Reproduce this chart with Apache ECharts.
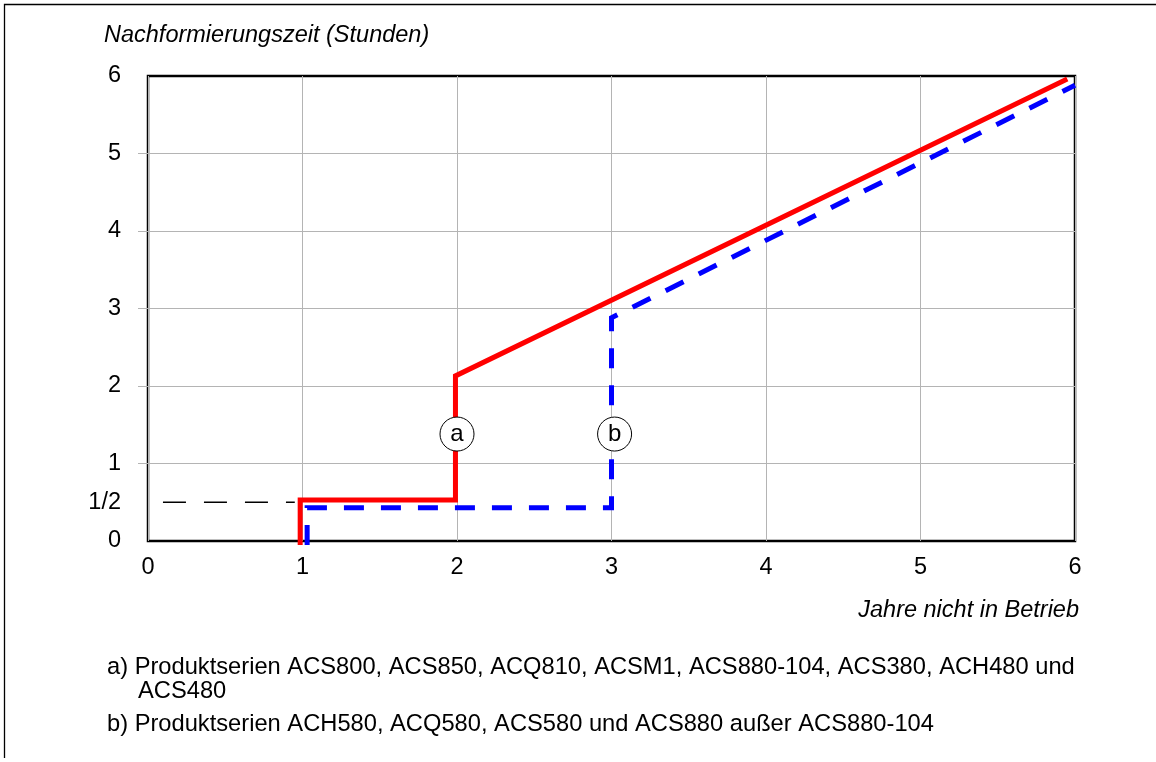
<!DOCTYPE html>
<html>
<head>
<meta charset="utf-8">
<script src="https://cdn.jsdelivr.net/npm/echarts@6/dist/echarts.min.js"></script>
<style>
html,body{margin:0;padding:0;background:#fff;}
#c{width:1156px;height:762px;}
</style>
</head>
<body>
<div id="c"></div>
<script>
// ---- data ----
const yAxisTitle = 'Nachformierungszeit (Stunden)';
const xAxisTitle = 'Jahre nicht in Betrieb';
const xTickValues = [0, 1, 2, 3, 4, 5, 6];
const yLabelValues = [0, 0.5, 1, 2, 3, 4, 5, 6];
const yLabelTexts = ['0', '1/2', '1', '2', '3', '4', '5', '6'];
const yGridValues = [1, 2, 3, 4, 5];
const seriesA = [[0.985, -0.05], [0.985, 0.53], [1.99, 0.53], [1.99, 2.13], [5.95, 5.96]];
const seriesB = [[1.03, -0.05], [1.03, 0.43], [3.0, 0.43], [3.0, 2.88], [6.0, 5.88]];
const halfLine = [[-0.065, 0.5], [0.95, 0.5]];
const markers = [[2.0, 1.38, 'a'], [3.02, 1.38, 'b']];
const noteLines = [
  'a) Produktserien ACS800, ACS850, ACQ810, ACSM1, ACS880-104, ACS380, ACH480 und',
  'ACS480',
  'b) Produktserien ACH580, ACQ580, ACS580 und ACS880 außer ACS880-104'
];

const FONT = "'Liberation Sans', Arial, sans-serif";
const chart = echarts.init(document.getElementById('c'), null, {renderer: 'canvas'});

const noteLeft = [107, 138, 107];
const noteTop = [655, 679, 712];

const titles = [
  {text: yAxisTitle, left: 104, top: 23.5, padding: 0,
   textStyle: {fontFamily: FONT, fontSize: 23.5, fontStyle: 'italic', fontWeight: 'normal', color: '#000'}},
  {text: xAxisTitle, right: 77, top: 598.5, padding: 0,
   textStyle: {fontFamily: FONT, fontSize: 23.5, fontStyle: 'italic', fontWeight: 'normal', color: '#000'}}
].concat(noteLines.map((t, i) => ({
  text: t, left: noteLeft[i], top: noteTop[i], padding: 0,
  textStyle: {fontFamily: FONT, fontSize: 23.7, fontWeight: 'normal', color: '#000'}
})));

chart.setOption({
  animation: false,
  backgroundColor: '#fff',
  title: titles,
  graphic: [{
    type: 'polyline',
    shape: {points: [[1156, 4.5], [4.5, 4.5], [4.5, 758]]},
    style: {stroke: '#000', lineWidth: 1.3, fill: null},
    silent: true
  }],
  grid: {left: 148, right: 81, top: 76, bottom: 221, show: true,
         borderColor: '#000', borderWidth: 2.5, backgroundColor: 'transparent', containLabel: false},
  xAxis: {
    type: 'value', min: 0, max: 6, interval: 1,
    axisLine: {show: false},
    axisTick: {show: false},
    axisLabel: {
      customValues: xTickValues,
      margin: 15, fontFamily: FONT, fontSize: 23.5, color: '#000'
    },
    splitLine: {show: true, lineStyle: {color: '#b4b4b4', width: 1}}
  },
  yAxis: {
    type: 'value', min: 0, max: 6, interval: 1,
    axisLine: {show: false},
    axisTick: {show: true, inside: false, length: 10, customValues: yGridValues,
               lineStyle: {color: '#b4b4b4', width: 1}},
    axisLabel: {
      customValues: yLabelValues,
      formatter: v => yLabelTexts[yLabelValues.indexOf(v)],
      padding: [9, 0, 0, 0],
      margin: 27, fontFamily: FONT, fontSize: 23.5, color: '#000'
    },
    splitLine: {show: true, lineStyle: {color: '#b4b4b4', width: 1}}
  },
  series: [
    {
      type: 'line', data: halfLine, symbol: 'none', clip: false, z: 3,
      lineStyle: {color: '#000', width: 1.3, type: [23, 18], dashOffset: 16}
    },
    {
      type: 'line', data: seriesA, symbol: 'none', clip: false, z: 4,
      lineStyle: {color: '#ff0000', width: 5, join: 'miter', cap: 'butt'}
    },
    {
      type: 'line', data: seriesB, symbol: 'none', clip: false, z: 5,
      lineStyle: {color: '#0000ff', width: 5, type: [20, 17], dashOffset: 0, join: 'miter', cap: 'butt'}
    },
    {
      type: 'scatter', data: markers, symbol: 'circle', symbolSize: 34, z: 10, clip: false,
      itemStyle: {color: '#fff', borderColor: '#000', borderWidth: 1, opacity: 1},
      label: {show: true, position: 'inside', formatter: p => p.data[2],
              fontFamily: FONT, fontSize: 24, color: '#000'}
    }
  ]
});
</script>
</body>
</html>
